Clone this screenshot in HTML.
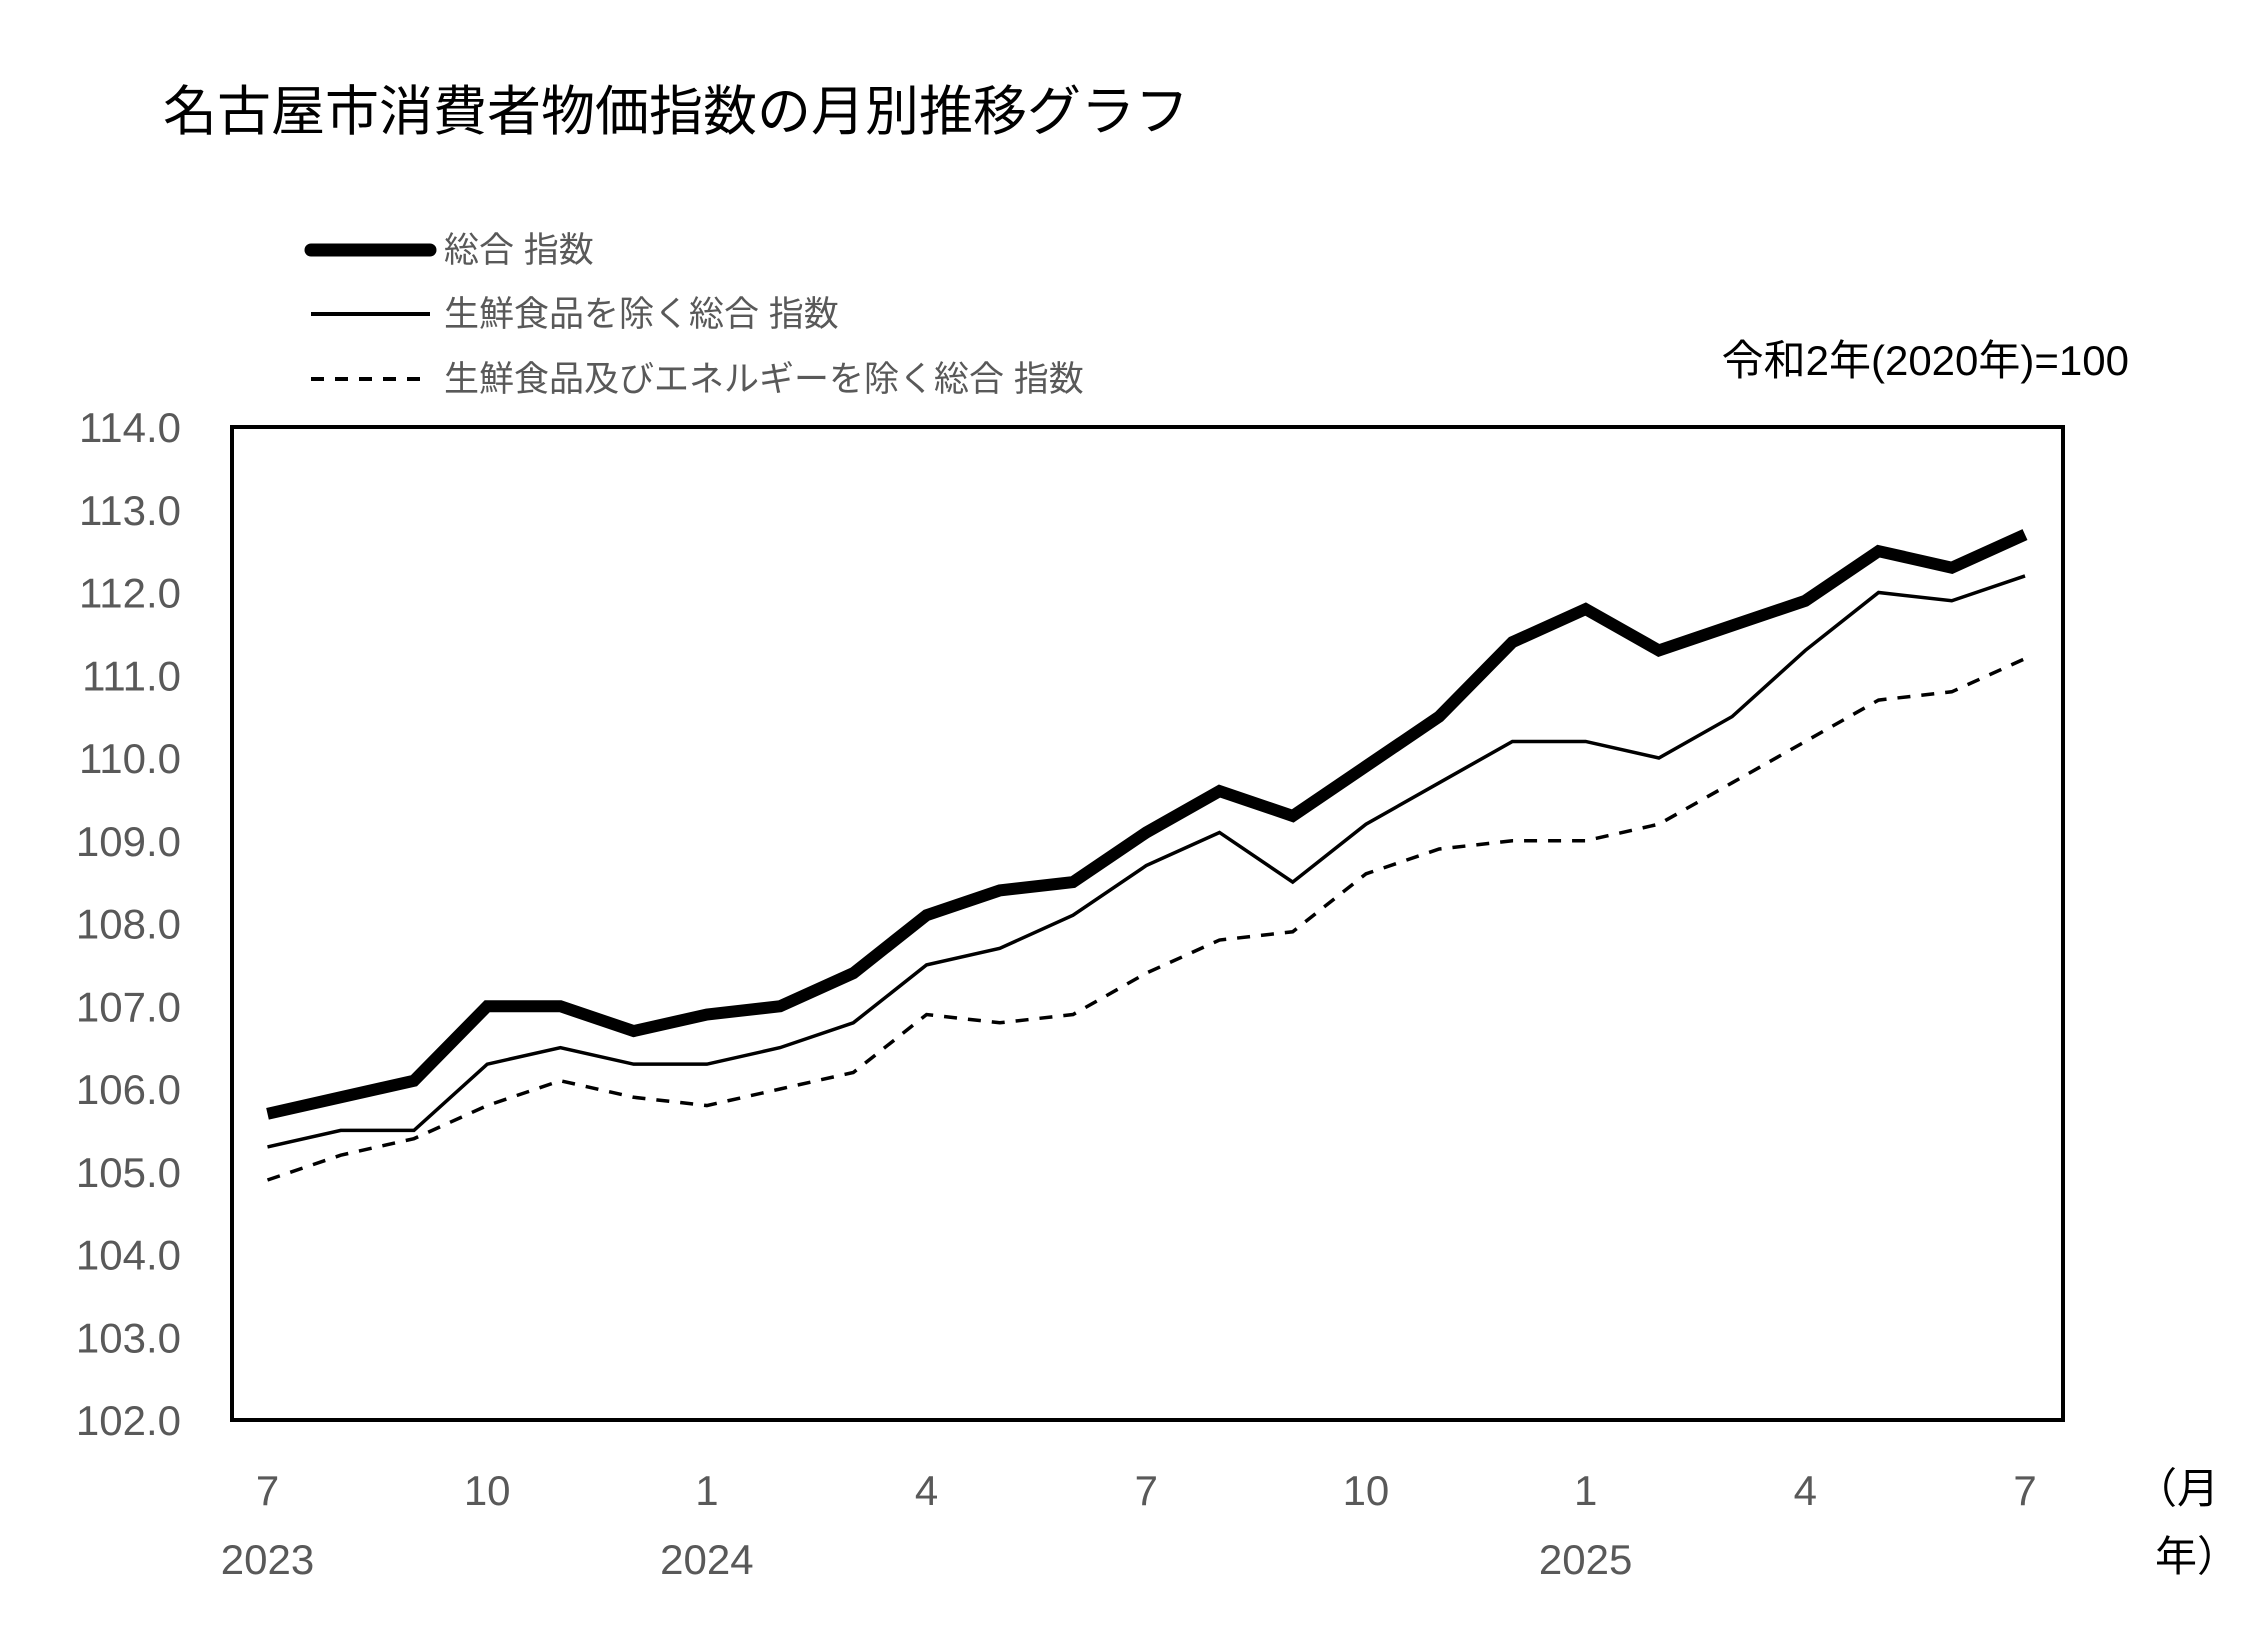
<!DOCTYPE html>
<html><head><meta charset="utf-8"><style>
body{margin:0;background:#fff;}
svg{display:block;font-family:"Liberation Sans","Noto Sans CJK JP",sans-serif;}
</style></head><body>
<svg id="chart" width="2256" height="1630" viewBox="0 0 2256 1630">
<text x="163" y="130" font-size="54" fill="#000">名古屋市消費者物価指数の月別推移グラフ</text>
<g>
<line x1="311" y1="250" x2="430" y2="250" stroke="#000" stroke-width="13" stroke-linecap="round"/>
<text x="444" y="262" font-size="35" fill="#595959">総合 指数</text>
<line x1="311" y1="314" x2="430" y2="314" stroke="#000" stroke-width="4"/>
<text x="444" y="326" font-size="35" fill="#595959">生鮮食品を除く総合 指数</text>
<line x1="311" y1="379" x2="430" y2="379" stroke="#000" stroke-width="4" stroke-dasharray="13,11"/>
<text x="444" y="391" font-size="35" fill="#595959">生鮮食品及びエネルギーを除く総合 指数</text>
</g>
<text x="2129" y="375" font-size="42" fill="#000" text-anchor="end">令和2年(2020年)=100</text>
<rect x="232" y="427" width="1831" height="993" fill="none" stroke="#000" stroke-width="4"/>
<g id="yt"></g><g id="xt"></g><g id="series"></g>
<text x="2135" y="1503" font-size="42" fill="#000">（月</text>
<text x="2155" y="1571" font-size="42" fill="#000">年）</text>
</svg>
<script>
const yTicks=[102,103,104,105,106,107,108,109,110,111,112,113,114];
const monthLabels=["7","","","10","","","1","","","4","","","7","","","10","","","1","","","4","","","7"];
const yearLabels=["2023","","","","","","2024","","","","","","","","","","","","2025","","","","","",""];
const total=[105.7,105.9,106.1,107.0,107.0,106.7,106.9,107.0,107.4,108.1,108.4,108.5,109.1,109.6,109.3,109.9,110.5,111.4,111.8,111.3,111.6,111.9,112.5,112.3,112.7];
const core=[105.3,105.5,105.5,106.3,106.5,106.3,106.3,106.5,106.8,107.5,107.7,108.1,108.7,109.1,108.5,109.2,109.7,110.2,110.2,110.0,110.5,111.3,112.0,111.9,112.2];
const coreCore=[104.9,105.2,105.4,105.8,106.1,105.9,105.8,106.0,106.2,106.9,106.8,106.9,107.4,107.8,107.9,108.6,108.9,109.0,109.0,109.2,109.7,110.2,110.7,110.8,111.2];
const NS="http://www.w3.org/2000/svg";
const y=v=>1420-(v-102)*(993/12);
const x=i=>267.5+i*((2025-267.5)/24);
const yt=document.getElementById('yt');
yTicks.forEach(v=>{const t=document.createElementNS(NS,'text');
t.setAttribute('x',181);t.setAttribute('y',y(v)+15);t.setAttribute('font-size','42');t.setAttribute('fill','#595959');t.setAttribute('text-anchor','end');


t.textContent=v.toFixed(1);yt.appendChild(t);});
const xt=document.getElementById('xt');
monthLabels.forEach((m,i)=>{if(m){const t=document.createElementNS(NS,'text');
t.setAttribute('x',x(i));t.setAttribute('y',1505);t.setAttribute('font-size','42');t.setAttribute('fill','#595959');t.setAttribute('text-anchor','middle');


t.textContent=m;xt.appendChild(t);}
if(yearLabels[i]){const t=document.createElementNS(NS,'text');
t.setAttribute('x',x(i));t.setAttribute('y',1574);t.setAttribute('font-size','42');t.setAttribute('fill','#595959');t.setAttribute('text-anchor','middle');


t.textContent=yearLabels[i];xt.appendChild(t);}});
const sg=document.getElementById('series');
function line(arr,w,dash,name){const p=document.createElementNS(NS,'polyline');
p.setAttribute('points',arr.map((v,i)=>x(i)+','+y(v)).join(' '));
p.setAttribute('fill','none');p.setAttribute('stroke','#000');p.setAttribute('stroke-width',w);p.setAttribute('stroke-linejoin','miter');
if(dash)p.setAttribute('stroke-dasharray',dash);


sg.appendChild(p);}
line(coreCore,3.5,'13,11','series-corecore-line');
line(core,3.5,null,'series-core-line');
line(total,12,null,'series-total-line');
</script>
</body></html>
